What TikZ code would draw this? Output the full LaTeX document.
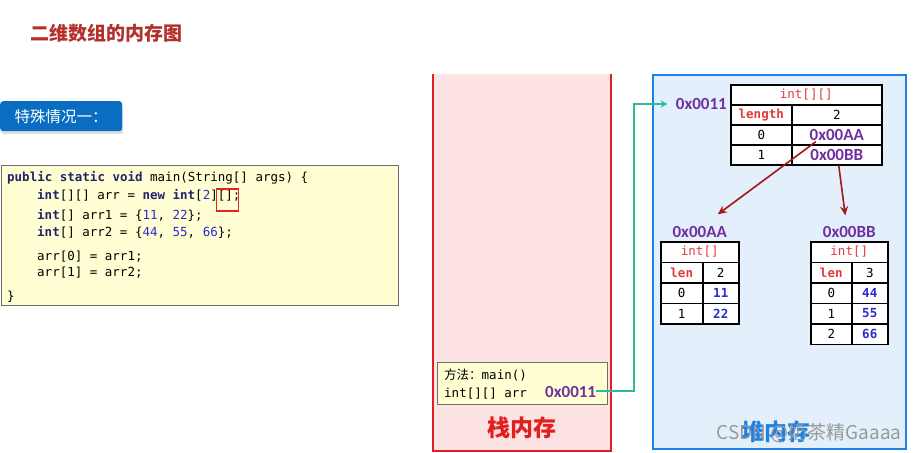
\documentclass[tikz,border=0pt]{standalone}
\usepackage{fontspec}
\setmainfont{Liberation Sans}
\setmonofont{DejaVu Sans Mono}
\newfontfamily\cjk{Noto Sans CJK SC}
\newfontfamily\addrfont{Carlito}
\usetikzlibrary{positioning, calc, shadows, arrows.meta}
\definecolor{titlered}{HTML}{B3302B}
\definecolor{btnblue}{HTML}{0A6DC2}
\definecolor{codefill}{HTML}{FFFFD3}
\definecolor{codeedge}{HTML}{6E6E6E}
\definecolor{kwnavy}{HTML}{22226E}
\definecolor{numblue}{HTML}{2B2BD0}
\definecolor{hlred}{HTML}{E02424}
\definecolor{stackfill}{HTML}{FDE3E3}
\definecolor{stackred}{HTML}{E11F1F}
\definecolor{heapfill}{HTML}{E3F0FC}
\definecolor{heapblue}{HTML}{1C82E6}
\definecolor{addrpurple}{HTML}{7030A0}
\definecolor{ptrred}{HTML}{A51616}
\definecolor{linkteal}{HTML}{2DBA9B}
\definecolor{hdrred}{HTML}{E23A3A}
\newcommand\kw[1]{\textcolor{kwnavy}{\bfseries #1}}
\newcommand\codenum[1]{\textcolor{numblue}{#1}}
\tikzset{
  code/.style={anchor=base west, inner sep=0pt, font=\ttfamily\fontsize{12.5}{12.5}\selectfont},
  cell/.style={rectangle, draw=black, line width=1.5pt, fill=white, inner sep=0pt,
               anchor=north west, minimum width=#1, minimum height=20.5pt,
               font=\ttfamily\fontsize{12.5}{12.5}\selectfont},
  keycell/.style={text=hdrred, font=\ttfamily\bfseries\fontsize{12.5}{12.5}\selectfont},
  valcell/.style={text=numblue, font=\ttfamily\bfseries\fontsize{12.5}{12.5}\selectfont},
  addr/.style={text=addrpurple, inner sep=2pt, font=\addrfont\bfseries\fontsize{17}{17}\selectfont},
  ptr/.style={-{Stealth[length=9pt, width=8pt]}, line width=1.6pt, draw=ptrred},
  link/.style={-{Stealth[length=7pt, width=7pt]}, line width=2pt, draw=linkteal},
  memlbl/.style={font=\cjk\bfseries\fontsize{23}{23}\selectfont},
}

\begin{document}
\begin{tikzpicture}[x=1pt, y=-1pt]
  \useasboundingbox (0,0) rectangle (917,452);
  % title and case tag
  \node[anchor=west, text=titlered, font=\cjk\bfseries\fontsize{19}{19}\selectfont] (title) at (27,33) {二维数组的内存图};
  \node[rectangle, rounded corners=3pt, fill=btnblue, text=white, anchor=north west,
        minimum width=122pt, minimum height=30pt, font=\cjk\fontsize{15.5}{15.5}\selectfont,
        drop shadow={shadow xshift=1pt, shadow yshift=-3pt, fill=black!25}] (case) at (0,101) {特殊情况一：};

  % source code
  \node[rectangle, draw=codeedge, fill=codefill, line width=1.2pt, anchor=north west,
        minimum width=397pt, minimum height=140pt] (codebox) at (0.6,165) {};
  \foreach \n/\x/\y/\txt in {
    1/7/181/{\kw{public static void} main(String[] args) \{},
    2/37/199/{\kw{int}[][] arr = \kw{new} \kw{int}[\codenum{2}][];},
    3/37/219.5/{\kw{int}[] arr1 = \{\codenum{11}, \codenum{22}\};},
    4/37/236/{\kw{int}[] arr2 = \{\codenum{44}, \codenum{55}, \codenum{66}\};},
    5/37/260/{arr[0] = arr1;},
    6/37/276/{arr[1] = arr2;},
    7/7/300/{\}}}{
    \node[code] (l\n) at (\x,\y) {\txt};
  }
  \draw[hlred, line width=1.3pt] ($(l2.base east)+(-24,-10)$) rectangle ($(l2.base east)+(-2,12)$);

  % stack
  \fill[stackfill] (432,74) rectangle (612,451);
  \draw[stackred, line width=2pt] (433,74) -- (433,451) -- (611,451) -- (611,74);
  \node[rectangle, draw=codeedge, fill=codefill, line width=1.2pt, anchor=north west,
        minimum width=170pt, minimum height=42pt] (frame) at (437,362) {};
  \node[code] (fr-m) at (444,379) {{\cjk 方法：}main()};
  \node[code] (fr-v) at (444,397) {int[][] arr};
  \node[addr, anchor=base west, inner sep=0pt] (fr-addr) at (545,397) {0x0011};
  \node[memlbl, text=stackred] (stack-lbl) at (522,428) {栈内存};

  % heap
  \fill[heapfill] (653,75) rectangle (906,449);
  \draw[heapblue, line width=2.5pt] (653,75) rectangle (906,449);
  \node[memlbl, text=heapblue] (heap-lbl) at (776,432) {堆内存};
  \node[anchor=east, text=black!40, font=\cjk\fontsize{19}{19}\selectfont] (mark) at (905,433) {CSDN @奶茶精Gaaaa};

  % int[][] object
  \node[cell=151pt, minimum height=20pt, text=hdrred] (tt-h) at (730,84) {int[][]};
  \node[cell=61pt, minimum height=20pt, keycell] (tt-k1) at (730,104) {length};
  \node[cell=90pt, minimum height=20pt] (tt-v1) at (791,104) {2};
  \foreach \r/\k/\v in {2/0/0x00AA, 3/1/0x00BB}{
    \node[cell=61pt, minimum height=20pt] (tt-k\r) at (730,{84+20*\r}) {\k};
    \node[cell=90pt, minimum height=20pt, addr] (tt-v\r) at (791,{84+20*\r}) {\v};
  }
  \node[addr, anchor=east] (ha-lbl) at ($(tt-k1.north west)+(-1,0)$) {0x0011};

  % int[] objects
  \node[cell=78pt, text=hdrred] (aa-h) at (660,241) {int[]};
  \node[cell=42pt, keycell] (aa-k1) at (660,261.5) {len};
  \node[cell=36pt] (aa-v1) at (702,261.5) {2};
  \foreach \r/\k/\v in {2/0/11, 3/1/22}{
    \node[cell=42pt] (aa-k\r) at (660,{241+20.5*\r}) {\k};
    \node[cell=36pt, valcell] (aa-v\r) at (702,{241+20.5*\r}) {\v};
  }
  \node[addr, above=1pt of aa-h] (aa-lbl) {0x00AA};

  \node[cell=77pt, text=hdrred] (bb-h) at (810,241) {int[]};
  \node[cell=41pt, keycell] (bb-k1) at (810,261.5) {len};
  \node[cell=36pt] (bb-v1) at (851,261.5) {3};
  \foreach \r/\k/\v in {2/0/44, 3/1/55, 4/2/66}{
    \node[cell=41pt] (bb-k\r) at (810,{241+20.5*\r}) {\k};
    \node[cell=36pt, valcell] (bb-v\r) at (851,{241+20.5*\r}) {\v};
  }
  \node[addr, above=1pt of bb-h] (bb-lbl) {0x00BB};

  % references
  \draw[link, shorten >=6pt] (fr-addr.east) -- ++(38,0) |- (ha-lbl.west);
  \draw[ptr] ($(tt-v2.center)+(-21,7)$) -- ($(aa-lbl.north)+(18,-10)$);
  \draw[ptr] ($(tt-v3.south)+(2,0)$) -- ($(bb-lbl.north)+(-4,-9)$);
\end{tikzpicture}
\end{document}
